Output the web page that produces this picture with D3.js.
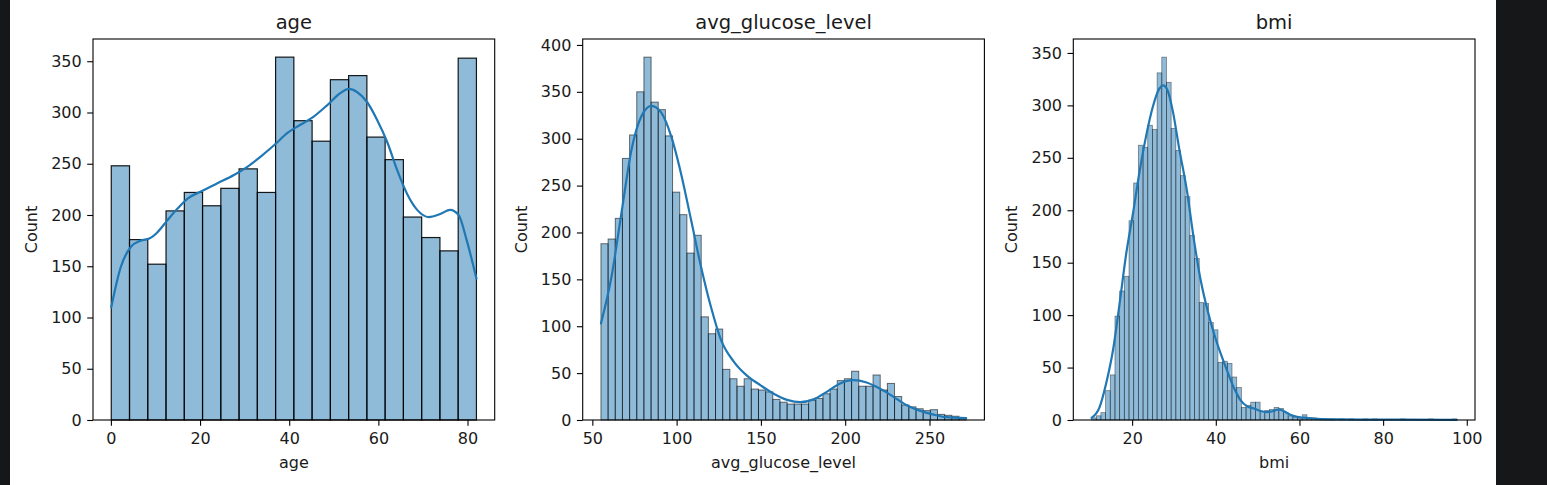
<!DOCTYPE html>
<html>
<head>
<meta charset="utf-8">
<script src="https://cdn.jsdelivr.net/npm/d3@7"></script>
<style>
    body { margin: 0; background: #fff; }
    #chart { width: 1547px; height: 485px; }
    text { font-family: "DejaVu Sans", sans-serif; fill: #1a1a1a; }
</style>
</head>
<body>
<div id="chart"></div>
<script>

// ---- age ----
var ageRange = [0.08, 82];
var ageCounts = [248, 176, 152, 204, 222, 209, 226, 245, 222, 354,
                 292, 272, 332, 336, 276, 254, 198, 178, 165, 353];
var ageKdeX = [0.08, 2.2, 4.5, 6.7, 8.6, 10.4, 12.7, 14.9, 17.2, 20.2, 23.9, 27.6, 30.6, 33.6,
               36.6, 39.6, 42.5, 45.5, 48.5, 51.5, 53.4, 55.2, 57.5, 59.7, 62.0, 64.2, 66.4,
               68.7, 71.3, 73.9, 76.1, 78.0, 79.9, 82];
var ageKdeY = [110, 149, 169, 175, 177, 183, 195, 206, 216, 223, 231, 239, 247, 257,
               268, 280, 288, 296, 307, 319, 323, 320, 310, 293, 271, 244, 221,
               205, 198, 201, 205, 200, 174, 138];
var ageTicksX = [0, 20, 40, 60, 80];
var ageTicksY = [0, 50, 100, 150, 200, 250, 300, 350];

// ---- avg_glucose_level ----
var glucoseRange = [55.12, 271.74];
var glucoseCounts = [188, 193, 215, 279, 304, 350, 387, 339, 331, 303,
                     243, 219, 178, 197, 110, 92, 97, 54, 44, 36,
                     44, 33, 32, 30, 22, 19, 17, 17, 17, 21,
                     23, 28, 33, 42, 44, 52, 36, 36, 48, 32,
                     39, 25, 16, 14, 12, 10, 11, 6, 5, 4, 2];
var glucoseKdeX = [55.12, 61.4, 67.3, 73.2, 79.1, 85.0, 90.8, 96.7, 102.6, 108.5, 114.4, 120.3,
                   126.2, 134.0, 141.9, 149.8, 157.6, 165.5, 173.4, 181.2, 189.1, 197.0, 204.8,
                   212.7, 220.5, 228.4, 236.2, 244.1, 251.9, 259.8, 271.74];
var glucoseKdeY = [103, 153, 221, 288, 324, 335, 328, 303, 263, 214, 164, 121,
                   86, 62, 47, 37, 28, 21.5, 19, 22, 30, 39, 42.5,
                   40, 33.5, 25, 16, 10, 6, 3, 2];
var glucoseTicksX = [50, 100, 150, 200, 250];
var glucoseTicksY = [0, 50, 100, 150, 200, 250, 300, 350, 400];

// ---- bmi ----
var bmiRange = [10.3, 97.6];
var bmiCounts = [2, 4, 7, 28, 43, 99, 123, 137, 190, 226,
                 262, 260, 281, 277, 331, 346, 322, 278, 257, 233,
                 213, 176, 154, 112, 111, 93, 86, 55, 56, 54,
                 41, 31, 12, 14, 17, 17, 8, 9, 10, 12,
                 11, 7, 4, 3, 2, 5, 2, 2, 1, 1,
                 1, 1, 0, 1, 0, 1, 0, 0, 1, 0,
                 1, 0, 0, 0, 0, 0, 1, 0, 0, 0,
                 0, 0, 1, 0, 0, 0, 0, 1];
var bmiKdeX = [10.3, 12.2, 13.8, 15.4, 17.0, 18.6, 20.2, 21.7, 23.3, 24.9, 26.5, 27.4, 28.5,
               29.7, 31.2, 33.2, 34.8, 36.4, 38.0, 39.6, 41.2, 42.7, 44.3, 45.9, 47.5, 49.1,
               50.7, 52.2, 53.8, 55.0, 56.2, 57.8, 59.4, 61.0, 63.3, 67.3, 75, 85, 97.6];
var bmiKdeY = [2, 12, 35, 66, 111, 159, 197, 235, 270, 298, 316, 319, 314,
               295, 260, 216, 171, 133, 105, 82, 63, 47, 31, 19, 13, 11,
               8.6, 7.6, 8.6, 10, 8.6, 5, 3, 2.2, 1.3, 0.6, 0.4, 0.3, 0.2];
var bmiTicksX = [20, 40, 60, 80, 100];
var bmiTicksY = [0, 50, 100, 150, 200, 250, 300, 350];


var width = 1547;
var height = 485;

var svg = d3.select("#chart")
    .append("svg")
    .attr("width", width)
    .attr("height", height);

svg.append("rect")
    .attr("width", width)
    .attr("height", height)
    .attr("fill", "#fff");

// dark screenshot borders
svg.append("rect").attr("x", 0).attr("y", 0).attr("width", 10).attr("height", height).attr("fill", "#161718");
svg.append("rect").attr("x", 1496).attr("y", 0).attr("width", width - 1496).attr("height", height).attr("fill", "#161718");

var panels = [
    { name: "age", left: 93, range: ageRange, counts: ageCounts, kdeX: ageKdeX, kdeY: ageKdeY,
      ticksX: ageTicksX, ticksY: ageTicksY, edgeOpacity: 0.9, edgeWidth: 1.2 },
    { name: "avg_glucose_level", left: 582.7, range: glucoseRange, counts: glucoseCounts, kdeX: glucoseKdeX, kdeY: glucoseKdeY,
      ticksX: glucoseTicksX, ticksY: glucoseTicksY, edgeOpacity: 0.55, edgeWidth: 1 },
    { name: "bmi", left: 1073.3, range: bmiRange, counts: bmiCounts, kdeX: bmiKdeX, kdeY: bmiKdeY,
      ticksX: bmiTicksX, ticksY: bmiTicksY, edgeOpacity: 0.45, edgeWidth: 0.8 }
];

var axW = 401.7;
var axH = 381;
var axTop = 39;

panels.forEach(function(p) {

    var g = svg.append("g")
        .attr("transform", "translate(" + p.left + "," + axTop + ")");

    var lo = p.range[0], hi = p.range[1];
    var pad = (hi - lo) * 0.05;
    var binW = (hi - lo) / p.counts.length;

    var bins = p.counts.map(function(c, i) {
        return { x0: lo + i * binW, x1: lo + (i + 1) * binW, count: c };
    });

    var xScale = d3.scaleLinear()
        .domain([lo - pad, hi + pad])
        .range([0, axW]);

    var yScale = d3.scaleLinear()
        .domain([0, d3.max(p.counts) * 1.05])
        .range([axH, 0]);

    g.selectAll("rect.bar")
        .data(bins)
        .enter()
        .append("rect")
            .attr("class", "bar")
            .attr("x", function(d) { return xScale(d.x0); })
            .attr("y", function(d) { return yScale(d.count); })
            .attr("width", function(d) { return xScale(d.x1) - xScale(d.x0); })
            .attr("height", function(d) { return axH - yScale(d.count); })
            .attr("fill", "rgba(31,119,180,0.5)")
            .attr("stroke", "#000")
            .attr("stroke-opacity", p.edgeOpacity)
            .attr("stroke-width", p.edgeWidth);

    var kde = p.kdeX.map(function(x, i) { return [x, p.kdeY[i]]; });

    var line = d3.line()
        .x(function(d) { return xScale(d[0]); })
        .y(function(d) { return yScale(d[1]); })
        .curve(d3.curveMonotoneX);

    g.append("path")
        .datum(kde)
        .attr("d", line)
        .attr("fill", "none")
        .attr("stroke", "#1f77b4")
        .attr("stroke-width", 2.2)
        .attr("stroke-linecap", "round");

    var xAxis = d3.axisBottom(xScale)
        .tickValues(p.ticksX)
        .tickSize(5.8)
        .tickSizeOuter(0)
        .tickPadding(7);

    var yAxis = d3.axisLeft(yScale)
        .tickValues(p.ticksY)
        .tickSize(5.8)
        .tickSizeOuter(0)
        .tickPadding(5.5);

    var gx = g.append("g")
        .attr("transform", "translate(0," + axH + ")")
        .call(xAxis);
    var gy = g.append("g").call(yAxis);

    [gx, gy].forEach(function(a) {
        a.select(".domain").remove();
        a.selectAll(".tick line").attr("stroke", "#000").attr("stroke-width", 1.1);
        a.selectAll(".tick text")
            .attr("font-size", "16px")
            .attr("font-family", "DejaVu Sans, sans-serif")
            .attr("fill", "#1a1a1a");
    });

    // frame
    g.append("rect")
        .attr("width", axW)
        .attr("height", axH)
        .attr("fill", "none")
        .attr("stroke", "#000")
        .attr("stroke-width", 1.1);

    g.append("text")
        .attr("x", axW / 2)
        .attr("y", 28.5 - axTop)
        .attr("text-anchor", "middle")
        .attr("font-size", "19.5px")
        .text(p.name);

    g.append("text")
        .attr("x", axW / 2)
        .attr("y", 468 - axTop)
        .attr("text-anchor", "middle")
        .attr("font-size", "16px")
        .text(p.name);

    g.append("text")
        .attr("transform", "translate(-56," + (axH / 2) + ") rotate(-90)")
        .attr("text-anchor", "middle")
        .attr("font-size", "16px")
        .text("Count");
});

</script>
</body>
</html>
